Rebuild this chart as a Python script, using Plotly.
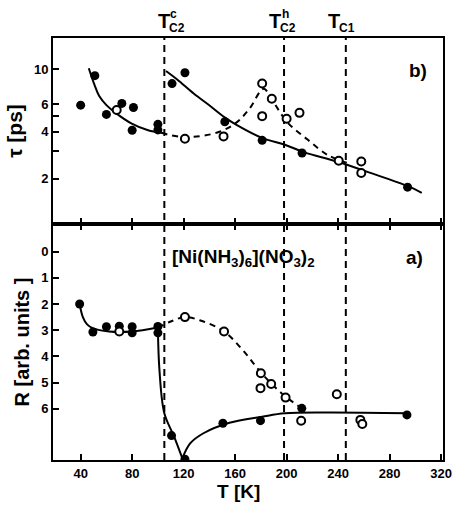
import plotly.graph_objects as go

# ---------------- data ----------------
# panel b) : tau [ps] (log scale)
tau_filled_T = [40, 51, 60, 72, 81, 80, 100, 100, 111, 121, 152, 181, 212, 294]
tau_filled_v = [5.9, 9.1, 5.15, 6.05, 5.7, 4.08, 4.45, 4.1, 8.1, 9.5, 4.62, 3.52, 2.92, 1.77]
tau_open_T = [68, 121, 151, 181, 181, 188.5, 200, 210, 240.5, 258, 258]
tau_open_v = [5.5, 3.6, 3.73, 8.1, 5.02, 6.48, 4.83, 5.27, 2.61, 2.58, 2.18]

tau_fit1_T = [46.3, 50.6, 54.4, 60, 67.1, 79.7, 92.4, 102.5]
tau_fit1_v = [10.15, 8.0, 6.74, 5.9, 5.27, 4.5, 4.08, 3.93]
tau_fit2_T = [106.3, 115, 127.8, 140.4, 151.6, 160.7, 181, 198.6, 213.8, 239, 261.8, 294.8, 305]
tau_fit2_v = [9.75, 8.6, 7.0, 5.85, 4.95, 4.44, 3.65, 3.3, 2.95, 2.58, 2.23, 1.79, 1.63]
tau_dash_T = [102.5, 120.2, 145.5, 160.7, 170.8, 182.2, 188.5, 201, 216.3, 231.5, 246.7]
tau_dash_v = [3.93, 3.69, 3.93, 4.55, 5.55, 7.5, 6.4, 4.55, 3.56, 2.85, 2.53]

# panel a) : R [arb. units] (reversed scale)
R_filled_T = [39.2, 49.5, 60, 70, 80, 80, 100, 100, 110.6, 121, 150.5, 179.7, 211.8, 293.5]
R_filled_v = [2.0, 3.07, 2.87, 2.85, 2.87, 3.1, 2.86, 3.1, 7.02, 7.92, 6.55, 6.45, 5.98, 6.23]
R_open_T = [70, 121, 151.4, 180, 179.7, 188, 199.2, 211.3, 239, 257.3, 258.8]
R_open_v = [3.05, 2.5, 3.05, 4.64, 5.21, 5.05, 5.57, 6.45, 5.44, 6.42, 6.58]

R_fitA_T = [39.2, 41.7, 45, 49.3, 62, 79.7, 100]
R_fitA_v = [2.0, 2.5, 2.78, 2.92, 3.05, 3.05, 2.9]
R_fitB_T = [100, 101.2, 105, 112.6, 119]
R_fitB_v = [2.95, 4.52, 6.17, 7.06, 7.89]
R_fitC_T = [119, 125.2, 135.4, 155.6, 181, 198.6, 231.5, 294]
R_fitC_v = [7.89, 7.31, 6.93, 6.53, 6.3, 6.17, 6.14, 6.17]
R_dash_T = [100, 110, 121, 135.4, 151.4, 165.8, 180.5, 196, 211.8]
R_dash_v = [2.9, 2.67, 2.5, 2.67, 3.05, 3.75, 4.64, 5.4, 5.98]

# transition temperatures
Tc_values = [105, 198, 246]

x_ticks = [40, 80, 120, 160, 200, 240, 280, 320]
tau_ticks = [2, 3, 4, 5, 6, 10]
tau_ticktext = ["2", "", "4", "", "6", "10"]
R_ticks = [0, 1, 2, 3, 4, 5, 6]

# ---------------- figure ----------------
FONT = "Liberation Sans"
W, H = 462, 505
ML, MR, MT, MB = 53, 10, 38, 45
fig = go.Figure()

def add_line(x, y, ya, dash=None):
    fig.add_trace(go.Scatter(x=x, y=y, xaxis="x2" if ya == "y2" else "x", yaxis=ya,
                             mode="lines",
                             line=dict(color="black", width=2, shape="spline", dash=dash),
                             hoverinfo="skip", showlegend=False))

def filled(x, y, ya):
    fig.add_trace(go.Scatter(x=x, y=y, xaxis="x2" if ya == "y2" else "x", yaxis=ya,
                             mode="markers", marker=dict(color="black", size=9),
                             showlegend=False))

def opened(x, y, ya):
    fig.add_trace(go.Scatter(x=x, y=y, xaxis="x2" if ya == "y2" else "x", yaxis=ya,
                             mode="markers",
                             marker=dict(color="white", size=8, line=dict(color="black", width=2)),
                             showlegend=False))

# top panel
add_line(tau_fit1_T, tau_fit1_v, "y2")
add_line(tau_fit2_T, tau_fit2_v, "y2")
add_line(tau_dash_T, tau_dash_v, "y2", dash="6px,5px")
filled(tau_filled_T, tau_filled_v, "y2")
opened(tau_open_T, tau_open_v, "y2")

# bottom panel
add_line(R_fitA_T, R_fitA_v, "y")
add_line(R_fitB_T, R_fitB_v, "y")
add_line(R_fitC_T, R_fitC_v, "y")
add_line(R_dash_T, R_dash_v, "y", dash="6px,5px")
filled(R_filled_T, R_filled_v, "y")
opened(R_open_T, R_open_v, "y")

for tc in Tc_values:
    fig.add_shape(type="line", xref="x", yref="paper", x0=tc, x1=tc, y0=0, y1=1,
                  line=dict(color="black", width=2, dash="7px,5px"), layer="below")

split = 236 / (H - MT - MB)
tickfont = dict(family=FONT, size=13, color="black", weight="bold")
common = dict(ticks="inside", ticklen=6, tickwidth=2, tickcolor="black",
              showline=True, linewidth=2, linecolor="black",
              showgrid=False, zeroline=False)
fig.update_layout(
    width=W, height=H,
    margin=dict(l=ML, r=MR, t=MT, b=MB),
    paper_bgcolor="white", plot_bgcolor="white",
    xaxis=dict(domain=[0, 1], anchor="y", range=[18.5, 321.5], tickvals=x_ticks,
               mirror="ticks", tickfont=tickfont, **common),
    xaxis2=dict(domain=[0, 1], anchor="y2", matches="x", tickvals=x_ticks, showticklabels=False,
                mirror=True, **common),
    yaxis=dict(domain=[0, split], anchor="x", range=[7.95, -1.05], tickvals=R_ticks,
               mirror=True, tickfont=tickfont,
               title=dict(text="R [arb. units ]",
                          font=dict(family=FONT, size=20, color="black", weight="bold"),
                          standoff=6), **common),
    yaxis2=dict(domain=[split, 1], anchor="x2", type="log", range=[0.013, 1.199],
                tickvals=tau_ticks, ticktext=tau_ticktext, mirror=True, tickfont=tickfont,
                title=dict(text="τ [ps]",
                           font=dict(family=FONT, size=21, color="black", weight="bold"),
                           standoff=6), **common),
)

def px(x):
    return (x - ML) / (W - ML - MR)

def py(y):
    return (H - MB - y) / (H - MT - MB)

def ann(text, x, y, size, xanchor="center", yanchor="middle"):
    fig.add_annotation(text=text, x=px(x), y=py(y), xref="paper", yref="paper",
                       showarrow=False, xanchor=xanchor, yanchor=yanchor, borderpad=0,
                       font=dict(family=FONT, size=size, color="black", weight="bold"))

# transition-temperature labels (T with stacked sub/superscripts)
ann("T", 167, 21, 20)
ann("C2", 179.5, 28, 12)
ann("c", 176, 14, 12)
ann("T", 280, 21, 20)
ann("C2", 293.5, 28, 12)
ann("h", 291, 14, 12)
ann("T", 340, 21, 20)
ann("C1", 353.5, 28, 12)

ann("b)", 426, 71, 19)
ann("a)", 423, 257, 19)
ann("[Ni(NH<sub>3</sub>)<sub>6</sub>](NO<sub>3</sub>)<sub>2</sub>", 174, 258, 19, xanchor="left")
ann("T [K]", 243, 492, 19)

fig.write_html("out.html", config={"displayModeBar": False},
               post_script="document.body.style.margin='0';document.body.style.overflow='hidden';")
